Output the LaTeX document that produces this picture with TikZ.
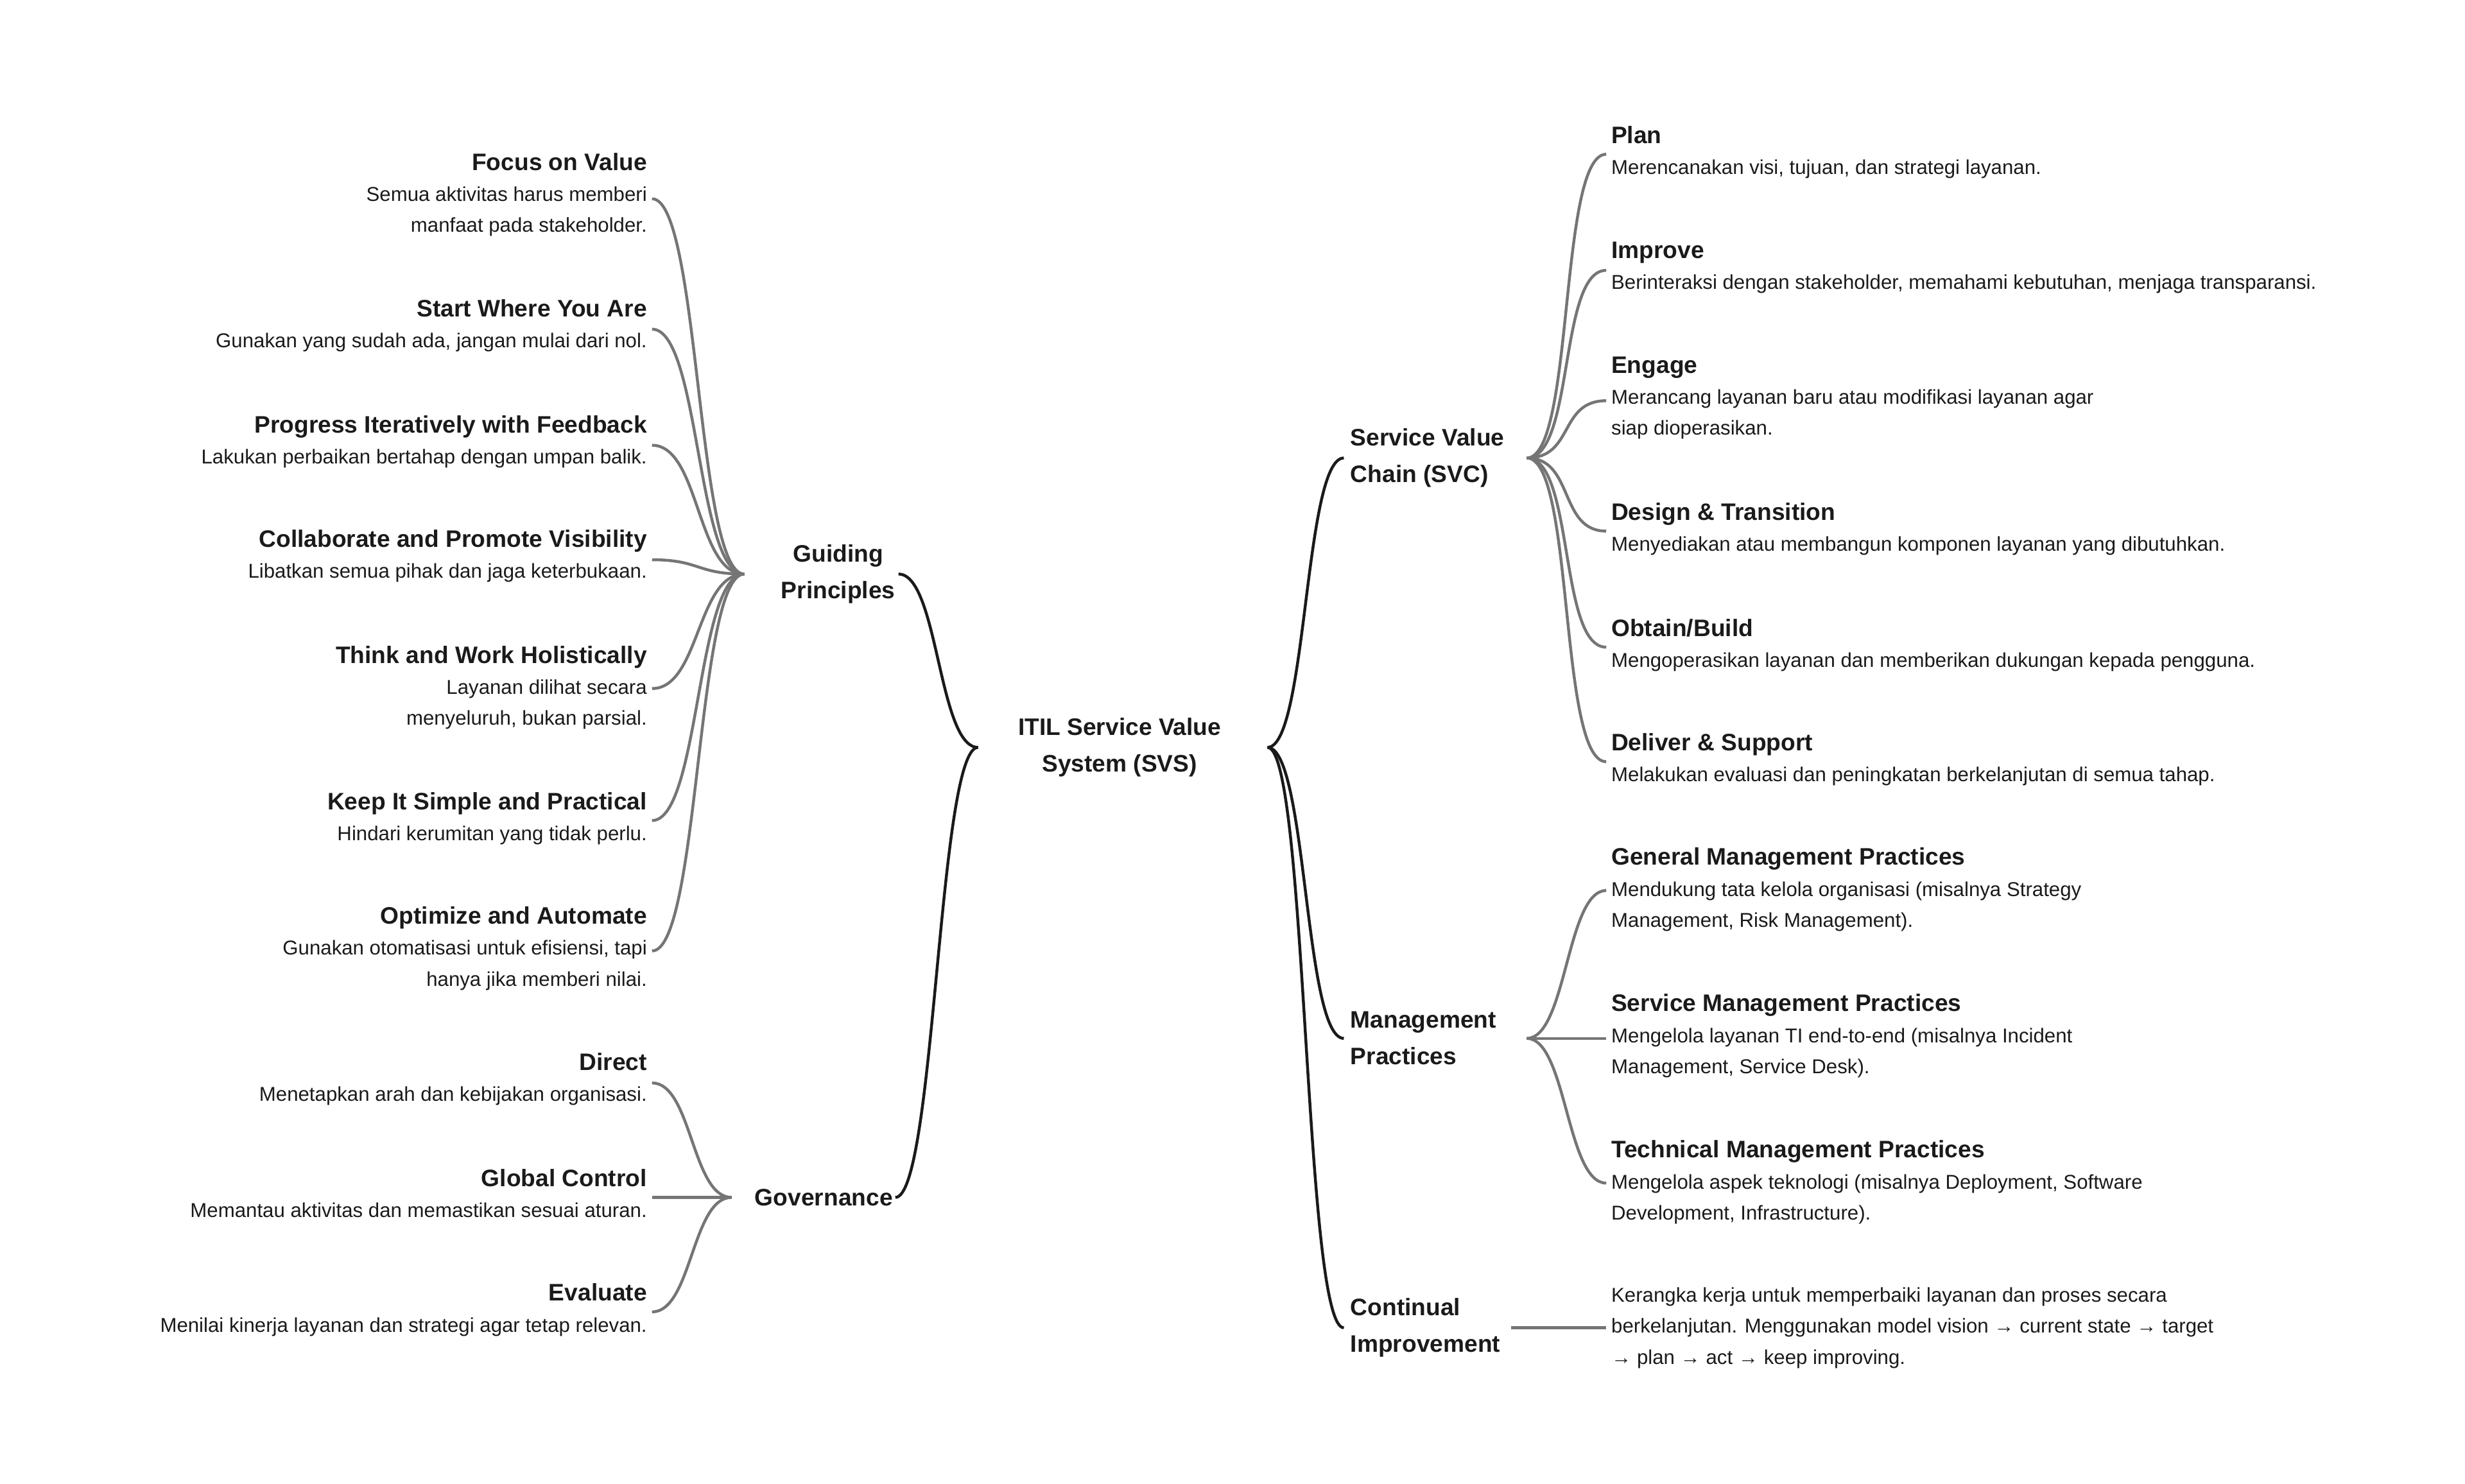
\documentclass[tikz,border=0pt]{standalone}
\usepackage{fontspec}
\setmainfont{Liberation Sans}
\definecolor{txt}{HTML}{1A1A1A}
\definecolor{lg}{HTML}{757575}
\begin{document}
\begin{tikzpicture}[x=1pt,y=-1pt,
  lleaf/.style={anchor=north east,align=right,inner sep=0,text=txt,font=\fontsize{12.6}{19.5}\selectfont},
  rleaf/.style={anchor=north west,align=left,inner sep=0,text=txt,font=\fontsize{12.6}{19.5}\selectfont},
  hub/.style={align=center,inner sep=0,text=txt,font=\fontsize{15}{23}\selectfont\bfseries},
  main/.style={draw=txt,line width=1.8pt},
  sub/.style={draw=lg,line width=1.8pt}]
\useasboundingbox (0,0) rectangle (1550,933);
\newcommand{\ttl}[1]{{\fontsize{15}{19.5}\selectfont\bfseries #1}}
% center
\node[hub] (svs) at (704,470) {ITIL Service Value\\System (SVS)};
\coordinate (cl) at (615,470); \coordinate (cr) at (797,470);
% hubs
\node[hub] (gp) at (527,361) {Guiding\\Principles};
\coordinate (gpr) at (565,361); \coordinate (gpl) at (468,361);
\node[hub] (gov) at (518,753) {Governance};
\coordinate (govr) at (563,753); \coordinate (govl) at (460,753);
\node[hub,anchor=west,align=left] (svc) at (849,288) {Service Value\\Chain (SVC)};
\coordinate (svcl) at (845,288); \coordinate (svcr) at (960,288);
\node[hub,anchor=west,align=left] (mp) at (849,653) {Management\\Practices};
\coordinate (mpl) at (845,653); \coordinate (mpr) at (960,653);
\node[hub,anchor=west,align=left] (ci) at (849,835) {Continual\\Improvement};
\coordinate (cil) at (845,835); \coordinate (cir) at (950,835);
% main connectors
\foreach \a/\b in {gpr/cl,govr/cl}
  \draw[main] (\b) .. controls +(-25,0) and +(25,0) .. (\a);
\foreach \b in {svcl,mpl,cil}
  \draw[main] (cr) .. controls +(25,0) and +(-25,0) .. (\b);
% left leaves
\node[lleaf] (l1) at (407,96) {\ttl{Focus on Value}\\Semua aktivitas harus memberi\\manfaat pada stakeholder.};
\node[lleaf] (l2) at (407,188) {\ttl{Start Where You Are}\\Gunakan yang sudah ada, jangan mulai dari nol.};
\node[lleaf] (l3) at (407,261) {\ttl{Progress Iteratively with Feedback}\\Lakukan perbaikan bertahap dengan umpan balik.};
\node[lleaf] (l4) at (407,333) {\ttl{Collaborate and Promote Visibility}\\Libatkan semua pihak dan jaga keterbukaan.};
\node[lleaf] (l5) at (407,406) {\ttl{Think and Work Holistically}\\Layanan dilihat secara\\menyeluruh, bukan parsial.};
\node[lleaf] (l6) at (407,498) {\ttl{Keep It Simple and Practical}\\Hindari kerumitan yang tidak perlu.};
\node[lleaf] (l7) at (407,570) {\ttl{Optimize and Automate}\\Gunakan otomatisasi untuk efisiensi, tapi\\hanya jika memberi nilai.};
\node[lleaf] (g1) at (407,662) {\ttl{Direct}\\Menetapkan arah dan kebijakan organisasi.};
\node[lleaf] (g2) at (407,735) {\ttl{Global Control}\\Memantau aktivitas dan memastikan sesuai aturan.};
\node[lleaf] (g3) at (407,807) {\ttl{Evaluate}\\Menilai kinerja layanan dan strategi agar tetap relevan.};
\foreach \n/\y in {l1/125,l2/207,l3/280,l4/352,l5/433,l6/516,l7/598}
  \draw[sub] (gpl) .. controls +(-30,0) and +(30,0) .. (410,\y);
\foreach \n/\y in {g1/681,g2/753,g3/825}
  \draw[sub] (govl) .. controls +(-25,0) and +(25,0) .. (410,\y);
% right leaves
\node[rleaf] (r1) at (1013,79) {\ttl{Plan}\\Merencanakan visi, tujuan, dan strategi layanan.};
\node[rleaf] (r2) at (1013,152) {\ttl{Improve}\\Berinteraksi dengan stakeholder, memahami kebutuhan, menjaga transparansi.};
\node[rleaf] (r3) at (1013,224) {\ttl{Engage}\\Merancang layanan baru atau modifikasi layanan agar\\siap dioperasikan.};
\node[rleaf] (r4) at (1013,316) {\ttl{Design \& Transition}\\Menyediakan atau membangun komponen layanan yang dibutuhkan.};
\node[rleaf] (r5) at (1013,389) {\ttl{Obtain/Build}\\Mengoperasikan layanan dan memberikan dukungan kepada pengguna.};
\node[rleaf] (r6) at (1013,461) {\ttl{Deliver \& Support}\\Melakukan evaluasi dan peningkatan berkelanjutan di semua tahap.};
\node[rleaf] (m1) at (1013,533) {\ttl{General Management Practices}\\Mendukung tata kelola organisasi (misalnya Strategy\\Management, Risk Management).};
\node[rleaf] (m2) at (1013,625) {\ttl{Service Management Practices}\\Mengelola layanan TI end-to-end (misalnya Incident\\Management, Service Desk).};
\node[rleaf] (m3) at (1013,717) {\ttl{Technical Management Practices}\\Mengelola aspek teknologi (misalnya Deployment, Software\\Development, Infrastructure).};
\node[rleaf,anchor=west] (c1) at (1013,835) {Kerangka kerja untuk memperbaiki layanan dan proses secara\\berkelanjutan. Menggunakan model vision → current state → target\\→ plan → act → keep improving.};
\foreach \n/\y in {r1/97,r2/170,r3/252,r4/334,r5/407,r6/479}
  \draw[sub] (svcr) .. controls +(30,0) and +(-30,0) .. (1010,\y);
\foreach \n/\y in {m1/560,m2/653,m3/744}
  \draw[sub] (mpr) .. controls +(25,0) and +(-25,0) .. (1010,\y);
\draw[sub] (cir) -- (1010,835);
\end{tikzpicture}
\end{document}
